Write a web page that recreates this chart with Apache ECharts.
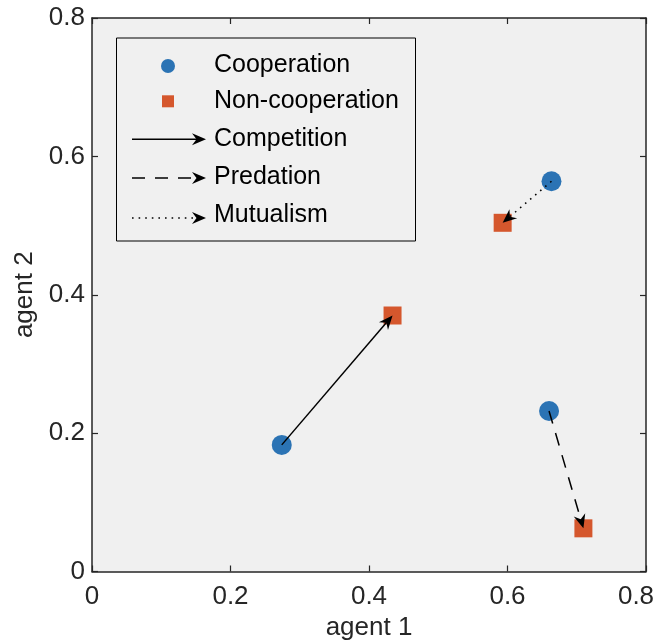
<!DOCTYPE html>
<html>
<head>
<meta charset="utf-8">
<script src="https://cdn.jsdelivr.net/npm/echarts@6/dist/echarts.min.js"></script>
<style>
html,body{margin:0;padding:0;background:#fff;}
#c{width:657px;height:642px;}
</style>
</head>
<body>
<div id="c"></div>
<script>
// ---- data ----
var xTicks = [0, 0.2, 0.4, 0.6, 0.8];
var yTicks = [0, 0.2, 0.4, 0.6, 0.8];
var coopX = [0.274, 0.6635, 0.660];
var coopY = [0.183, 0.564, 0.232];
var nonX = [0.434, 0.593, 0.7096];
var nonY = [0.370, 0.504, 0.0624];
var relations = ['Competition', 'Mutualism', 'Predation']; // arrow i: coop i -> non i
var legendNames = ['Cooperation', 'Non-cooperation', 'Competition', 'Predation', 'Mutualism'];

var FONT = 'Liberation Sans, Arial, Helvetica, sans-serif';
var BLUE = '#2B73B4', ORANGE = '#D5572D', AXC = '#262626';
var dashFor = {
  'Competition': null,
  'Predation': [13, 10],
  'Mutualism': [1.6, 5]
};

function arrowHead(tx, ty, ang, L, W, D) {
  var c = Math.cos(ang), s = Math.sin(ang);
  function p(a, b) { return [tx + a * c - b * s, ty + a * s + b * c]; }
  return [p(0, 0), p(-L, W), p(-L + D, 0), p(-L, -W)];
}

var coopData = coopX.map(function (x, i) { return [x, coopY[i]]; });
var nonData = nonX.map(function (x, i) { return [x, nonY[i]]; });
var arrowData = relations.map(function (r, i) {
  return [coopX[i], coopY[i], nonX[i], nonY[i], i];
});

var chart = echarts.init(document.getElementById('c'), null, { renderer: 'canvas' });

// legend graphic (layout only)
var lgX = 116, lgY = 37.5, rowY = [64, 100.3, 137.7, 176.5, 214];
var gElems = [{
  type: 'rect', shape: { x: lgX + 0.5, y: lgY + 0.5, width: 299, height: 203 },
  style: { fill: '#F0F0F0', stroke: '#000', lineWidth: 1 }, z: 100
}, {
  type: 'circle', shape: { cx: 168, cy: rowY[0] + 2, r: 7 }, style: { fill: BLUE }, z: 101
}, {
  type: 'rect', shape: { x: 162, y: rowY[1] - 5, width: 12, height: 12 }, style: { fill: ORANGE }, z: 101
}];
legendNames.forEach(function (n, i) {
  gElems.push({
    type: 'text', x: 214, y: rowY[i] + 1, z: 101,
    style: { text: n, font: '25px ' + FONT, fill: '#000', textVerticalAlign: 'middle', verticalAlign: 'middle' }
  });
  if (i >= 2) {
    var ly = rowY[i] + (i === 4 ? 4 : 1.5);
    gElems.push({
      type: 'line', z: 101, shape: { x1: 132, y1: ly, x2: 198, y2: ly },
      style: { stroke: '#000', lineWidth: 1.5, lineDash: dashFor[n] || null }
    });
    gElems.push({
      type: 'polygon', z: 102, shape: { points: arrowHead(206, ly, 0, 14, 6, 4.5) },
      style: { fill: '#000' }
    });
  }
});

var xMax = xTicks[xTicks.length - 1];
var option = {
  backgroundColor: '#fff',
  animation: false,
  textStyle: { fontFamily: FONT },
  grid: { left: 92, right: 11, top: 18, bottom: 70.5, show: true, backgroundColor: '#F0F0F0', borderWidth: 0,
    containLabel: false, outerBoundsMode: 'none' },
  xAxis: [{
    type: 'value', min: xTicks[0], max: xMax, interval: xTicks[1] - xTicks[0],
    name: 'agent 1', nameLocation: 'middle', nameGap: 37,
    nameTextStyle: { fontSize: 26, color: AXC, fontFamily: FONT },
    axisLine: { show: true, onZero: false, lineStyle: { color: AXC, width: 1.5 } },
    axisTick: { show: true, inside: true, length: 6, lineStyle: { color: AXC, width: 1.2 } },
    axisLabel: { fontSize: 26, color: AXC, margin: 12, fontFamily: FONT,
      rich: { m: { fontSize: 26, color: AXC, fontFamily: FONT, padding: [0, 20, 0, 0] } },
      formatter: function (v) {
        var i = xTicks.indexOf(+v.toFixed(2));
        if (i < 0) return '';
        return xTicks[i] === xMax ? '{m|' + xTicks[i] + '}' : String(xTicks[i]);
      } },
    splitLine: { show: false }
  }, {
    type: 'value', position: 'top', min: xTicks[0], max: xMax, interval: xTicks[1] - xTicks[0],
    axisLine: { show: true, onZero: false, lineStyle: { color: AXC, width: 1.5 } },
    axisTick: { show: true, inside: true, length: 6, lineStyle: { color: AXC, width: 1.2 } },
    axisLabel: { show: false }, splitLine: { show: false }
  }],
  yAxis: [{
    type: 'value', min: yTicks[0], max: yTicks[yTicks.length - 1], interval: yTicks[1] - yTicks[0],
    name: 'agent 2', nameLocation: 'middle', nameGap: 48, nameRotate: 90,
    nameTextStyle: { fontSize: 26, color: AXC, fontFamily: FONT },
    axisLine: { show: true, onZero: false, lineStyle: { color: AXC, width: 1.5 } },
    axisTick: { show: true, inside: true, length: 6, lineStyle: { color: AXC, width: 1.2 } },
    axisLabel: { fontSize: 26, color: AXC, margin: 7, fontFamily: FONT,
      formatter: function (v) { var i = yTicks.indexOf(+v.toFixed(2)); return i >= 0 ? String(yTicks[i]) : ''; } },
    splitLine: { show: false }
  }, {
    type: 'value', position: 'right', min: yTicks[0], max: yTicks[yTicks.length - 1], interval: yTicks[1] - yTicks[0],
    axisLine: { show: true, onZero: false, lineStyle: { color: AXC, width: 1.5 } },
    axisTick: { show: true, inside: true, length: 6, lineStyle: { color: AXC, width: 1.2 } },
    axisLabel: { show: false }, splitLine: { show: false }
  }],
  graphic: { elements: gElems },
  series: [{
    name: 'Cooperation', type: 'scatter', data: coopData, symbol: 'circle', symbolSize: 20,
    itemStyle: { color: BLUE, opacity: 1 }, z: 3
  }, {
    name: 'Non-cooperation', type: 'scatter', data: nonData, symbol: 'rect', symbolSize: 18,
    itemStyle: { color: ORANGE, opacity: 1 }, z: 3
  }, {
    name: 'Relations', type: 'custom', z: 5, data: arrowData,
    renderItem: function (params, api) {
      var p0 = api.coord([api.value(0), api.value(1)]);
      var p1 = api.coord([api.value(2), api.value(3)]);
      var rel = relations[api.value(4)];
      var ang = Math.atan2(p1[1] - p0[1], p1[0] - p0[0]);
      var L = 14;
      var ex = p1[0] - Math.cos(ang) * (L - 5), ey = p1[1] - Math.sin(ang) * (L - 5);
      return {
        type: 'group',
        children: [{
          type: 'line', shape: { x1: p0[0], y1: p0[1], x2: ex, y2: ey },
          style: { stroke: '#000', lineWidth: 1.5, lineDash: dashFor[rel] || null, fill: null }
        }, {
          type: 'polygon', shape: { points: arrowHead(p1[0], p1[1], ang, L, 6, 4.5) },
          style: { fill: '#000' }
        }]
      };
    }
  }]
};
chart.setOption(option);
</script>
</body>
</html>
